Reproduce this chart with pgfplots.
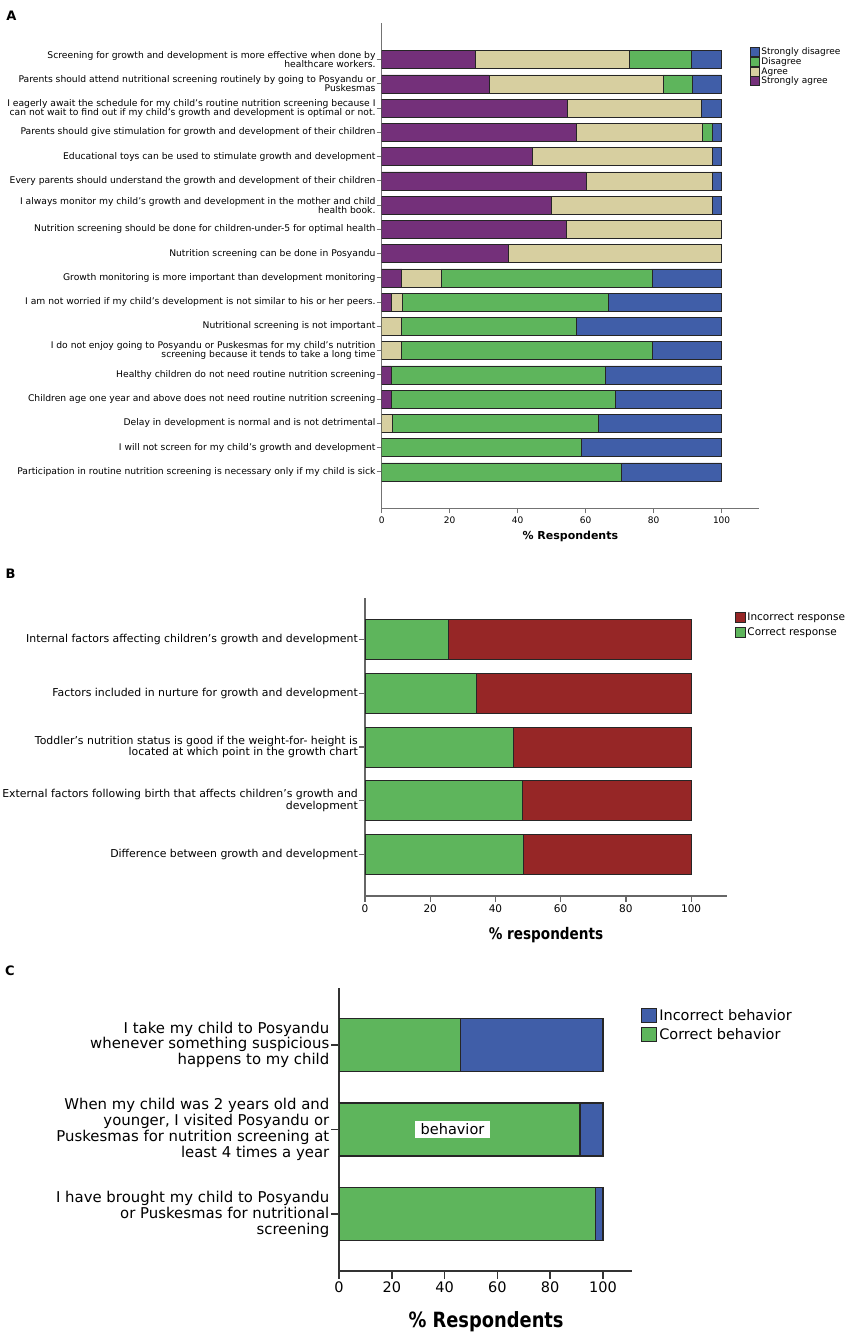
\documentclass[border=0pt]{standalone}
\usepackage{fontspec}
\setmainfont{DejaVu Sans}
\newfontfamily\lblfont[FakeStretch=0.85]{DejaVu Sans}
\usepackage{pgfplots}
\usepackage{pgfplotstable}
\pgfplotsset{compat=1.18}

\definecolor{sagree}{RGB}{116,48,122}
\definecolor{agree}{RGB}{215,207,160}
\definecolor{dgreen}{RGB}{94,181,92}
\definecolor{sdblue}{RGB}{64,94,168}
\definecolor{incred}{RGB}{150,38,38}

% panel A: y = position from bottom (17 = top bar)
\pgfplotstableread{
y  sa    ag    di    sd
17 27.5  45.2  18.4  8.9
16 31.6  51.2  8.7   8.5
15 54.6  39.4  0     6.0
14 57.3  37.0  3.0   2.7
13 44.2  53.0  0     2.8
12 60.1  37.1  0     2.8
11 50.0  47.2  0     2.8
10 54.2  45.8  0     0
9  37.2  62.8  0     0
8  5.9   11.6  62.0  20.5
7  2.9   3.2   60.6  33.3
6  0     5.7   51.6  42.7
5  0     5.9   73.6  20.5
4  2.7   0     63.1  34.2
3  2.7   0     65.9  31.4
2  0     3.0   60.6  36.4
1  0     0     58.7  41.3
0  0     0     70.6  29.4
}\tabA

\pgfplotstableread{
y correct incorrect
4 25.5 74.5
3 34.1 65.9
2 45.6 54.4
1 48.4 51.6
0 48.5 51.5
}\tabB

\pgfplotstableread{
y correct incorrect
2 45.9 54.1
1 91.3 8.7
0 97.3 2.7
}\tabC

\pgfplotsset{
  spss/.style={
    xbar stacked, scale only axis, anchor=south west,
    axis x line*=bottom, axis y line*=left,
    xmin=0, xmax=111, xtick={0,20,...,100},
    tick align=outside,
    /pgf/number format/assume math mode=true,
    yticklabel style={align=right},
    legend cell align=left, reverse legend,
  },
}

\begin{document}
\begin{tikzpicture}
\useasboundingbox (0,0) rectangle (848pt,-1339pt);

% ---------------- A
\node[font=\fontsize{13}{13}\selectfont\bfseries] at (11.5pt,-16pt) {A};
\begin{axis}[spss,
  at={(381.7pt,-508.3pt)}, width=377.3pt, height=485pt,
  ymin=-1.5, ymax=18.5, ytick={0,...,17}, bar width=0.74,
  major tick length=5pt,
  axis line style={draw=black!55, line width=0.9pt},
  tick style={draw=black!55, line width=0.9pt},
  every axis plot/.append style={draw=black!85, line width=0.6pt},
  yticklabel style={font=\fontsize{9.2}{9.2}\selectfont, inner sep=1pt},
  xticklabel style={font=\fontsize{9}{9}\selectfont},
  xlabel={\% Respondents},
  xlabel style={font=\fontsize{11}{11}\selectfont\bfseries, at={(axis description cs:0.5,-0.0586)}, anchor=center},
  yticklabels={
    {Participation in routine nutrition screening is necessary only if my child is sick},
    {I will not screen for my child's growth and development},
    {Delay in development is normal and is not detrimental},
    {Children age one year and above does not need routine nutrition screening},
    {Healthy children do not need routine nutrition screening},
    {I do not enjoy going to Posyandu or Puskesmas for my child's nutrition\\screening because it tends to take a long time},
    {Nutritional screening is not important},
    {I am not worried if my child's development is not similar to his or her peers.},
    {Growth monitoring is more important than development monitoring},
    {Nutrition screening can be done in Posyandu},
    {Nutrition screening should be done for children-under-5 for optimal health},
    {I always monitor my child's growth and development in the mother and child\\health book.},
    {Every parents should understand the growth and development of their children},
    {Educational toys can be used to stimulate growth and development},
    {Parents should give stimulation for growth and development of their children},
    {I eagerly await the schedule for my child's routine nutrition screening because I\\can not wait to find out if my child's growth and development is optimal or not.},
    {Parents should attend nutritional screening routinely by going to Posyandu or\\Puskesmas},
    {Screening for growth and development is more effective when done by\\healthcare workers.}},
  legend image code/.code={\draw[#1, line width=0.6pt] (0pt,-4.5pt) rectangle (9.5pt,4.5pt);},
  legend style={draw=none, fill=none, at={(0.9755,0.951)}, anchor=north west,
    font=\fontsize{9}{9}\selectfont, inner sep=0pt, row sep=0pt,
    nodes={inner xsep=1.4pt, inner ysep=0.7pt}},
]
\addplot[fill=sagree] table[x=sa, y=y] {\tabA};
\addplot[fill=agree] table[x=ag, y=y] {\tabA};
\addplot[fill=dgreen] table[x=di, y=y] {\tabA};
\addplot[fill=sdblue] table[x=sd, y=y] {\tabA};
\legend{Strongly agree, Agree, Disagree, Strongly disagree}
\end{axis}

% ---------------- B
\node[font=\fontsize{13}{13}\selectfont\bfseries] at (10.5pt,-574pt) {B};
\begin{axis}[spss,
  at={(365pt,-896pt)}, width=362pt, height=298pt,
  ymin=-0.775, ymax=4.775, ytick={0,...,4}, bar width=0.745,
  major tick length=5.5pt,
  axis line style={draw=black!60, line width=1.2pt},
  tick style={draw=black!60, line width=1.2pt},
  every axis plot/.append style={draw=black!85, line width=0.9pt},
  yticklabel style={font=\fontsize{10.9}{11.7}\selectfont, inner sep=1.5pt},
  xticklabel style={font=\fontsize{10.5}{11}\selectfont},
  xlabel={\% respondents},
  xlabel style={font=\lblfont\fontsize{16}{16}\selectfont\bfseries, at={(axis description cs:0.5,-0.131)}, anchor=center},
  yticklabels={
    {Difference between growth and development},
    {External factors following birth that affects children's growth and\\development},
    {Toddler's nutrition status is good if the weight-for- height is\\located at which point in the growth chart},
    {Factors included in nurture for growth and development},
    {Internal factors affecting children's growth and development}},
  legend image code/.code={\draw[#1, line width=0.8pt] (0pt,-5.2pt) rectangle (10pt,5.2pt);},
  legend style={draw=none, fill=none, at={(1.022,0.962)}, anchor=north west,
    font=\fontsize{10.5}{11}\selectfont, inner sep=0pt, row sep=0pt,
    nodes={inner xsep=1.5pt, inner ysep=3pt}},
]
\addplot[fill=dgreen] table[x=correct, y=y] {\tabB};
\addplot[fill=incred] table[x=incorrect, y=y] {\tabB};
\legend{Correct response, Incorrect response}
\end{axis}

% ---------------- C
\node[font=\fontsize{13}{13}\selectfont\bfseries] at (10pt,-971pt) {C};
\begin{axis}[spss,
  at={(339pt,-1271pt)}, width=293pt, height=283pt,
  ymin=-0.67, ymax=2.67, ytick={0,1,2}, bar width=0.625,
  major tick length=7.5pt,
  axis line style={draw=black!80, line width=1.5pt},
  tick style={draw=black!80, line width=1.5pt},
  every axis plot/.append style={draw=black!85, line width=1.1pt},
  yticklabel style={font=\fontsize{14.9}{15.8}\selectfont, inner sep=2pt},
  xticklabel style={font=\fontsize{14.5}{15}\selectfont},
  xlabel={\% Respondents},
  xlabel style={font=\lblfont\fontsize{21}{21}\selectfont\bfseries, at={(axis description cs:0.502,-0.18)}, anchor=center},
  yticklabels={
    {I have brought my child to Posyandu\\or Puskesmas for nutritional\\screening},
    {When my child was 2 years old and\\younger, I visited Posyandu or\\Puskesmas for nutrition screening at\\least 4 times a year},
    {I take my child to Posyandu\\whenever something suspicious\\happens to my child}},
  legend image code/.code={\draw[#1, line width=1pt] (0pt,-7pt) rectangle (14.5pt,7pt);},
  legend style={draw=none, fill=none, at={(1.031,0.935)}, anchor=north west,
    font=\fontsize{14.5}{15}\selectfont, inner sep=0pt, row sep=0pt,
    nodes={inner xsep=2.5pt, inner ysep=3pt}},
  after end axis/.code={
    \node[fill=white, inner xsep=6pt, inner ysep=3pt, font=\fontsize{14.5}{15}\selectfont] at (axis cs:43,1) {behavior};
  },
]
\addplot[fill=dgreen] table[x=correct, y=y] {\tabC};
\addplot[fill=sdblue] table[x=incorrect, y=y] {\tabC};
\legend{Correct behavior, Incorrect behavior}
\end{axis}
\end{tikzpicture}
\end{document}
